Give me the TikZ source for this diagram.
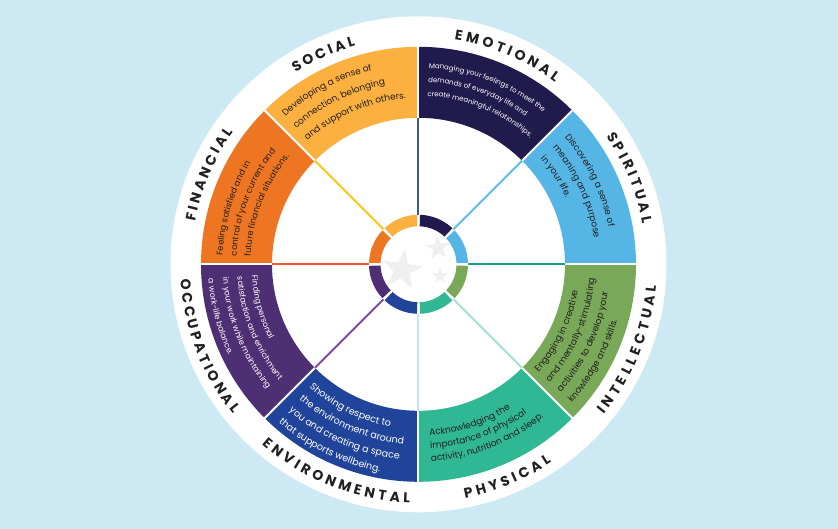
\documentclass[tikz,border=0pt]{standalone}
\usepackage{fontspec}
\newfontfamily\pop{Poppins}
\usetikzlibrary{decorations.text}
\definecolor{bg}{HTML}{CDE9F3}
\definecolor{cEmo}{HTML}{211A4C}
\definecolor{cSpi}{HTML}{55B5E5}
\definecolor{cInt}{HTML}{78A858}
\definecolor{cPhy}{HTML}{2FB893}
\definecolor{cEnv}{HTML}{1F4499}
\definecolor{cOcc}{HTML}{4F2F74}
\definecolor{cFin}{HTML}{EE7623}
\definecolor{cSoc}{HTML}{FBB040}
\definecolor{dark}{HTML}{231F20}
\definecolor{spA}{HTML}{3A5E8C}
\definecolor{spB}{HTML}{5BBFEA}
\definecolor{spC}{HTML}{18A08B}
\definecolor{spD}{HTML}{A6DDD6}
\definecolor{spE}{HTML}{C4E6F3}
\definecolor{spF}{HTML}{7E4D9C}
\definecolor{spG}{HTML}{EF5A2A}
\definecolor{spH}{HTML}{FDC416}
\definecolor{stargray}{HTML}{EFEFEF}
% start angle, end angle, baseline radius, colour, font size, text
\newcommand\arctext[6]{%
  \path[decorate,decoration={text along path,text color=#4,
    text={|\pop\fontsize{#5}{#5}\selectfont|#6}}]
    (#1:#3pt) arc[start angle=#1,end angle=#2,radius=#3pt];}
% start angle, end angle, radius, text (letters spread to fill the arc)
\newcommand\arclabel[4]{%
  \path[decorate,decoration={text along path,text color=dark,text align=fit to path,
    text={|\pop\bfseries\fontsize{14}{14}\selectfont|#4}}]
    (#1:#3pt) arc[start angle=#1,end angle=#2,radius=#3pt];}
\newcommand\fivestar[4]{% x, y, outer radius, rotation
  \fill[stargray,shift={(#1pt,#2pt)},rotate=#4]
    (90:#3pt) -- (126:0.4*#3pt) -- (162:#3pt) -- (198:0.4*#3pt) -- (234:#3pt) --
    (270:0.4*#3pt) -- (306:#3pt) -- (342:0.4*#3pt) -- (18:#3pt) -- (54:0.4*#3pt) -- cycle;}
\begin{document}
\begin{tikzpicture}
\useasboundingbox (-418.5pt,-264.7pt) rectangle (419.5pt,264.3pt);
\fill[bg] (-418.5pt,-264.7pt) rectangle (419.5pt,264.3pt);
\fill[white] (0,0) circle[radius=248pt];
% band sectors and inner ring segments
\foreach \a/\c in {45/cEmo,0/cSpi,-45/cInt,-90/cPhy,-135/cEnv,-180/cOcc,135/cFin,90/cSoc}{
  \fill[\c] (\a:146.5pt) arc[start angle=\a,end angle=\a+45,radius=146.5pt]
     -- (\a+45:217.5pt) arc[start angle=\a+45,end angle=\a,radius=217.5pt] -- cycle;
  \fill[\c] (\a+1.8:38pt) arc[start angle=\a+1.8,end angle=\a+43.2,radius=38pt]
     -- (\a+43.2:49.5pt) arc[start angle=\a+43.2,end angle=\a+1.8,radius=49.5pt] -- cycle;
}
\foreach \a in {0,45,...,315}{
  \draw[white,line width=2pt] (\a:145pt) -- (\a:219pt);
}
% spokes
\foreach \a/\c in {90/spA,45/spB,0/spC,-45/spD,-90/spE,-135/spF,180/spG,135/spH}{
  \draw[\c,line width=2pt] (\a:49.5pt) -- (\a:146.5pt);
}
% stars
\fivestar{-16.5}{-5.7}{21}{-8}
\fivestar{19.5}{16.3}{12.5}{5}
\fivestar{21.5}{-11.7}{8.5}{0}
% descriptions
\arctext{132}{90.3}{199}{dark}{9}{Developing a sense of}
\arctext{132}{90.3}{182.5}{dark}{9}{connection, belonging}
\arctext{132}{90.3}{166}{dark}{9}{and support with others.}
\arctext{87}{45.3}{196.5}{white}{7}{Managing your feelings to meet the}
\arctext{87}{45.3}{182.5}{white}{7}{demands of everyday life and}
\arctext{87}{45.3}{168.5}{white}{7}{create meaningful relationships.}
\arctext{41}{0.3}{193.5}{dark}{9}{Discovering a sense of}
\arctext{41}{0.3}{177.5}{dark}{9}{meaning and purpose}
\arctext{41}{0.3}{161.5}{dark}{9}{in your life.}
\arctext{-42}{-0.3}{161.5}{dark}{9}{Engaging in creative}
\arctext{-42}{-0.3}{176.5}{dark}{9}{and mentally-stimulating}
\arctext{-42}{-0.3}{191.5}{dark}{9}{activities to develop your}
\arctext{-42}{-0.3}{206.5}{dark}{9}{knowledge and skills.}
\arctext{-86.3}{-45.3}{171.5}{dark}{9}{Acknowledging the}
\arctext{-86.3}{-45.3}{184.5}{dark}{9}{importance of physical}
\arctext{-86.3}{-45.3}{197.5}{dark}{9}{activity, nutrition and sleep.}
\arctext{-131.5}{-90.3}{164.5}{white}{9.5}{Showing respect to}
\arctext{-131.5}{-90.3}{180}{white}{9.5}{the environment around}
\arctext{-131.5}{-90.3}{195.5}{white}{9.5}{you and creating a space}
\arctext{-131.5}{-90.3}{211}{white}{9.5}{that supports wellbeing.}
\arctext{-176}{-135.3}{167}{white}{8}{Finding personal}
\arctext{-176}{-135.3}{181.5}{white}{8}{satisfaction and enrichment}
\arctext{-176}{-135.3}{196}{white}{8}{in your work while maintaining}
\arctext{-176}{-135.3}{210.5}{white}{8}{a work-life balance.}
\arctext{177.4}{135.3}{196}{dark}{8.5}{Feeling satisfied and in}
\arctext{177.4}{135.3}{182}{dark}{8.5}{control of your current and}
\arctext{177.4}{135.3}{168}{dark}{8.5}{future financial situations.}
% outer labels
\arclabel{122.7}{106.1}{227.5}{SOCIAL}
\arclabel{80.9}{53.1}{227.5}{EMOTIONAL}
\arclabel{34.3}{10.3}{227.5}{SPIRITUAL}
\arclabel{169.2}{144.5}{227.5}{FINANCIAL}
\arclabel{-39.1}{-5.1}{238.5}{INTELLECTUAL}
\arclabel{-78.7}{-56.1}{238.5}{PHYSICAL}
\arclabel{-131.1}{-92.1}{238.5}{ENVIRONMENTAL}
\arclabel{-176.4}{-141.1}{238.5}{OCCUPATIONAL}
\end{tikzpicture}
\end{document}
